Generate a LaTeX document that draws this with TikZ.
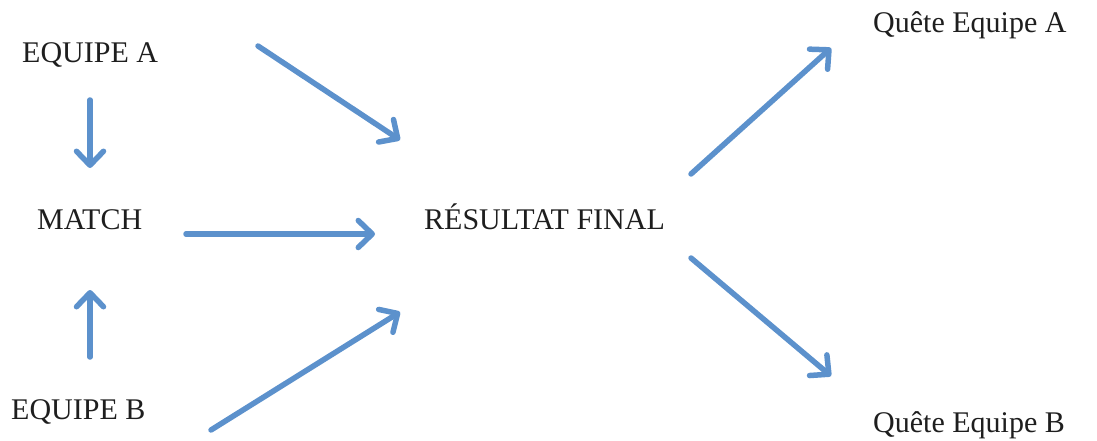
\documentclass[tikz,border=0pt]{standalone}
\usepackage{fontspec}
\setmainfont{Liberation Serif}
\usetikzlibrary{arrows.meta}
\definecolor{arrowblue}{RGB}{92,145,204}
\definecolor{txt}{RGB}{30,30,30}
\tikzset{
  lbl/.style={anchor=base west, inner sep=0pt, font=\fontsize{30}{33}\selectfont, text=txt},
  conn/.style={draw=arrowblue, line width=5.5pt, line cap=round, line join=round,
    -{Straight Barb[round, length=14pt, width=27pt]}}
}
\begin{document}
\begin{tikzpicture}[x=1pt, y=-1pt]
\useasboundingbox (0,0) rectangle (1097,441);
\node[lbl] (eqA) at (22,63) {EQUIPE A};
\node[lbl] (match) at (37,229) {MATCH};
\node[lbl] (eqB) at (11,419) {EQUIPE B};
\node[lbl] (res) at (424,229) {RÉSULTAT FINAL};
\node[lbl] (qA) at (873,33) {Quête Equipe A};
\node[lbl] (qB) at (873,432) {Quête Equipe B};
\coordinate (a1s) at (258,46);  \coordinate (a1e) at (400,140);
\coordinate (a2s) at (90,100);  \coordinate (a2e) at (90,168);
\coordinate (a3s) at (186,234); \coordinate (a3e) at (375,234);
\coordinate (a4s) at (90,357);  \coordinate (a4e) at (90,290);
\coordinate (a5s) at (211,430); \coordinate (a5e) at (400,312);
\coordinate (a6s) at (691,174); \coordinate (a6e) at (831,48);
\coordinate (a7s) at (691,258); \coordinate (a7e) at (831,376);
\draw[conn] (a1s) -- (a1e);
\draw[conn] (a2s) -- (a2e);
\draw[conn] (a3s) -- (a3e);
\draw[conn] (a4s) -- (a4e);
\draw[conn] (a5s) -- (a5e);
\draw[conn] (a6s) -- (a6e);
\draw[conn] (a7s) -- (a7e);
\end{tikzpicture}
\end{document}
